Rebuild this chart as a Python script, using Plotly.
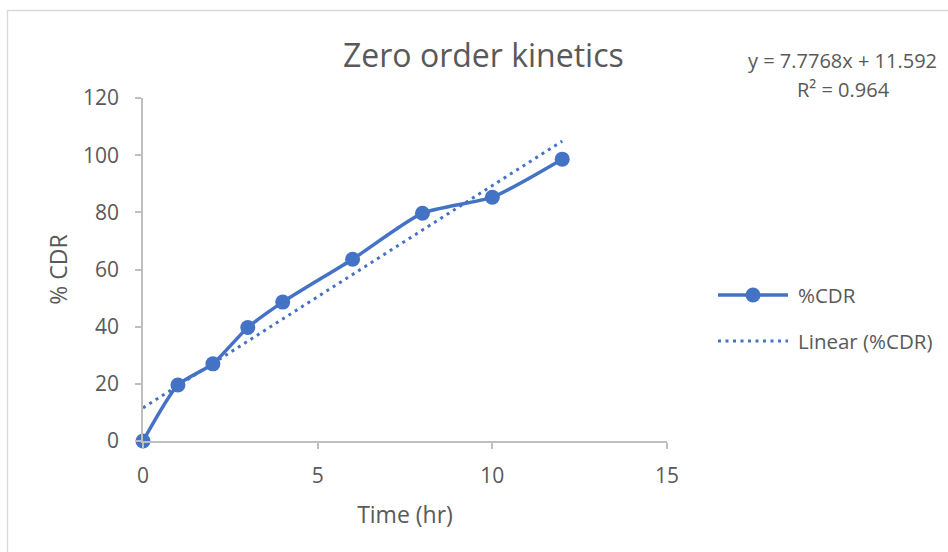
import plotly.graph_objects as go

# Data
time_hr = [0, 1, 2, 3, 4, 6, 8, 10, 12]
cdr = [0, 19.6, 27.0, 39.7, 48.6, 63.6, 79.7, 85.3, 98.6]
slope = 7.7768
intercept = 11.592
r2 = 0.964
trend_x = [0, 12]
trend_y = [slope * x + intercept for x in trend_x]
x_ticks = [0, 5, 10, 15]
y_ticks = [0, 20, 40, 60, 80, 100, 120]

BLUE = "#4472C4"
TXT = "#595959"
AX = "#BFBFBF"
FONT = "Open Sans"

W, H = 948, 552
L, R, T, B = 143, 281, 98, 111
pw, ph = W - L - R, H - T - B

def px(x):
    return (x - L) / pw

def py(y):
    return (H - B - y) / ph

fig = go.Figure()
fig.add_trace(go.Scatter(
    x=time_hr, y=cdr, mode="lines+markers", name="%CDR",
    line=dict(color=BLUE, width=3.5, shape="spline", smoothing=0.6),
    marker=dict(color=BLUE, size=15),
    showlegend=False, cliponaxis=False,
))
fig.add_trace(go.Scatter(
    x=trend_x, y=trend_y, mode="lines", name="Linear (%CDR)",
    line=dict(color=BLUE, width=3, dash="3px,4.5px"),
    showlegend=False, cliponaxis=False,
))

shapes = [
    # chart border
    dict(type="rect", xref="paper", yref="paper",
         x0=px(7.5), x1=px(960), y0=py(10.5), y1=py(570),
         line=dict(color="#D9D9D9", width=1.3), fillcolor="rgba(0,0,0,0)", layer="below"),
    # legend line 1
    dict(type="line", xref="paper", yref="paper",
         x0=px(718), x1=px(788), y0=py(295), y1=py(295),
         line=dict(color=BLUE, width=3.5)),
    dict(type="circle", xref="paper", yref="paper",
         x0=px(745.5), x1=px(760.5), y0=py(287.5), y1=py(302.5),
         line=dict(color=BLUE, width=0), fillcolor=BLUE),
    # legend line 2
    dict(type="line", xref="paper", yref="paper",
         x0=px(718), x1=px(788), y0=py(341), y1=py(341),
         line=dict(color=BLUE, width=3, dash="3px,4.5px")),
]

annotations = [
    dict(text="Zero order kinetics", x=px(483), y=py(55), xref="paper", yref="paper",
         showarrow=False, xanchor="center", yanchor="middle",
         font=dict(family=FONT, size=32, color=TXT)),
    dict(text="y = 7.7768x + 11.592", x=px(842), y=py(61), xref="paper", yref="paper",
         showarrow=False, xanchor="center", yanchor="middle",
         font=dict(family=FONT, size=20, color=TXT)),
    dict(text="R² = 0.964", x=px(843), y=py(89), xref="paper", yref="paper",
         showarrow=False, xanchor="center", yanchor="middle",
         font=dict(family=FONT, size=20, color=TXT)),
    dict(text="%CDR", x=px(796), y=py(295), xref="paper", yref="paper",
         showarrow=False, xanchor="left", yanchor="middle",
         font=dict(family=FONT, size=20.5, color=TXT)),
    dict(text="Linear (%CDR)", x=px(796), y=py(341), xref="paper", yref="paper",
         showarrow=False, xanchor="left", yanchor="middle",
         font=dict(family=FONT, size=20.5, color=TXT)),
]

fig.update_layout(
    width=W, height=H,
    margin=dict(l=L, r=R, t=T, b=B),
    paper_bgcolor="white", plot_bgcolor="white",
    font=dict(family=FONT, size=21, color=TXT),
    shapes=shapes, annotations=annotations,
)
fig.update_xaxes(
    range=[0, 15], tickvals=x_ticks, showgrid=False, zeroline=False,
    showline=True, linecolor=AX, linewidth=1.5,
    ticks="outside", ticklen=6, tickcolor=AX, tickwidth=1.5,
    ticklabelstandoff=9,
    tickfont=dict(family=FONT, size=21, color=TXT),
    title=dict(text="Time (hr)", font=dict(family=FONT, size=23, color=TXT), standoff=19),
)
fig.update_yaxes(
    range=[0, 120], tickvals=y_ticks, showgrid=False, zeroline=False,
    showline=True, linecolor=AX, linewidth=1.5,
    ticks="outside", ticklen=6, tickcolor=AX, tickwidth=1.5,
    ticklabelstandoff=12,
    tickfont=dict(family=FONT, size=21, color=TXT),
    title=dict(text="% CDR", font=dict(family=FONT, size=23, color=TXT), standoff=9),
)

fig.write_html("out.html")
